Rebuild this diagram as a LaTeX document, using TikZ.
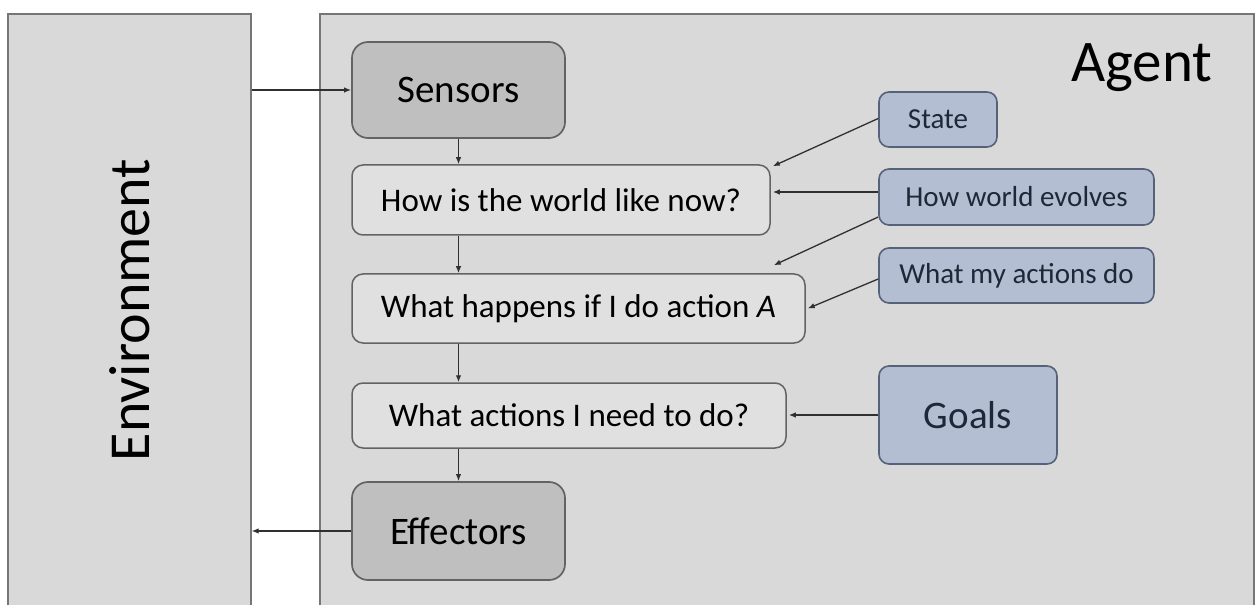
\documentclass[tikz,border=0pt]{standalone}
\usepackage{fontspec}
\setmainfont{Carlito}
\usetikzlibrary{arrows.meta,positioning}
\definecolor{bgg}{HTML}{D9D9D9}
\definecolor{frameg}{HTML}{767676}
\definecolor{darkg}{HTML}{BFBFBF}
\definecolor{lightg}{HTML}{E0E0E0}
\definecolor{boxline}{HTML}{636363}
\definecolor{bluefill}{HTML}{B4BED2}
\definecolor{blueline}{HTML}{56627A}
\definecolor{arrowc}{HTML}{303030}
\definecolor{bluetext}{HTML}{1E2838}
\tikzset{
  bigbox/.style={draw=frameg, fill=bgg, line width=1.6bp, anchor=north west, inner sep=0pt},
  graybox/.style={draw=boxline, fill=darkg, line width=1.7bp, rounded corners=16bp, inner sep=0pt,
     font=\fontsize{39bp}{46bp}\selectfont},
  mainbox/.style={draw=boxline, fill=lightg, line width=1.5bp, rounded corners=11bp, inner sep=0pt,
     font=\fontsize{33bp}{40bp}\selectfont},
  bluebox/.style={draw=blueline, fill=bluefill, line width=1.6bp, rounded corners=10bp, inner sep=0pt,
     text=bluetext, font=\fontsize{29bp}{35bp}\selectfont},
  arr/.style={draw=arrowc, line width=1.3bp, -{Latex[length=7bp,width=5.5bp]}},
}
\begin{document}
\begin{tikzpicture}[x=1bp,y=-1bp]
\useasboundingbox (0,0) rectangle (1257,605);
\clip (0,0) rectangle (1257,605);
\fill[white] (0,0) rectangle (1257,605);
% big frames
\node[bigbox, minimum width=243bp, minimum height=620bp] (env) at (7,13) {};
\node[bigbox, minimum width=934bp, minimum height=620bp] (agent) at (319,13) {};
\node[rotate=90, font=\fontsize{58bp}{70bp}\selectfont] (envtxt) at (130,310) {Environment};
\node[anchor=base, font=\fontsize{59bp}{70bp}\selectfont, inner sep=0pt] (agenttxt) at (1142,82) {Agent};
% main column
\node[graybox, minimum width=213bp, minimum height=96bp] (sens) at (458.5,90) {Sensors};
\node[mainbox, minimum width=418bp, minimum height=70bp] (how) at (561,200) {How is the world like now?};
\node[mainbox, minimum width=453bp, minimum height=69bp] (wh) at (578.5,308.5) {What happens if I do action \textit{A}};
\node[mainbox, minimum width=434bp, minimum height=65bp] (wa) at (569,415.5) {What actions I need to do?};
\node[graybox, minimum width=213bp, minimum height=98bp] (eff) at (458.5,531) {Effectors};
% knowledge boxes
\node[bluebox, minimum width=118bp, minimum height=55bp] (state) at (938,119.5) {State};
\node[bluebox, minimum width=275bp, minimum height=56bp] (hwe) at (1016.5,197) {How world evolves};
\node[bluebox, minimum width=275bp, minimum height=55bp] (wmad) at (1016.5,275.5) {What my actions do};
\node[bluebox, minimum width=178bp, minimum height=98bp, font=\fontsize{39bp}{46bp}\selectfont] (goals) at (968,415) {Goals};
% helper coordinates
\coordinate (howtip) at ([xshift=2bp,yshift=-2bp]how.north east);
\coordinate (whtip) at ([xshift=-32bp,yshift=8bp]wh.north east);
% environment links
\draw[arr] (env.east |- sens.west) -- (sens.west);
\draw[arr] (eff.west) -- (env.east |- eff.west);
% vertical chain
\draw[arr] (sens.south) -- (sens.south |- how.north);
\draw[arr] (sens.south |- how.south) -- (sens.south |- wh.north);
\draw[arr] (sens.south |- wh.south) -- (sens.south |- wa.north);
\draw[arr] (sens.south |- wa.south) -- (eff.north);
% knowledge arrows
\draw[arr] ([yshift=1bp]state.west) -- (howtip);
\draw[arr] ([yshift=5bp]hwe.west) -- ([xshift=2bp,yshift=5bp]hwe.west -| how.east);
\draw[arr] ([yshift=-20bp]hwe.west) -- (whtip);
\draw[arr] ([yshift=-3.5bp]wmad.west) -- ([xshift=2bp]wh.east);
\draw[arr] (goals.west) -- ([xshift=2bp]goals.west -| wa.east);
\end{tikzpicture}
\end{document}
